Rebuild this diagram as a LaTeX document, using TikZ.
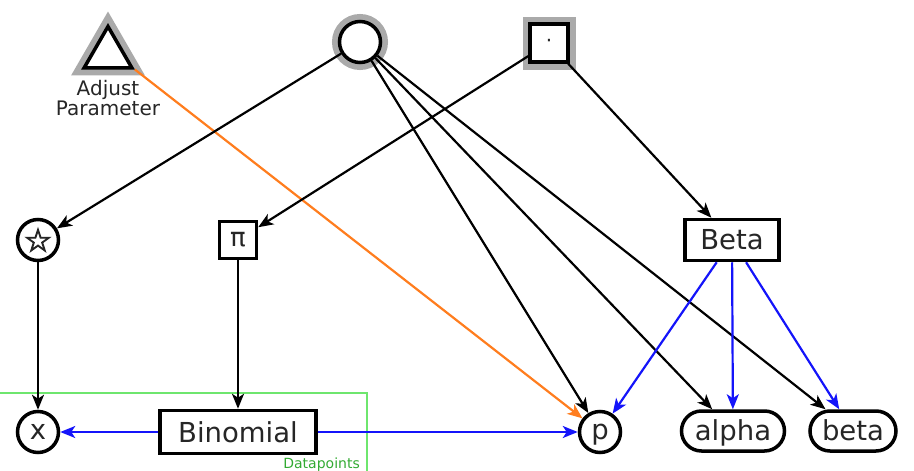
\documentclass[tikz,border=0pt]{standalone}
\usepackage{fontspec}
\setmainfont{DejaVu Sans}
\newfontfamily\starfont{DejaVu Sans}[FakeBold=3]
\usetikzlibrary{arrows.meta,shapes.geometric}
\definecolor{halogray}{RGB}{170,170,170}
\definecolor{edgeblue}{RGB}{20,20,250}
\definecolor{edgeorange}{RGB}{255,125,30}
\definecolor{plategreen}{RGB}{110,230,110}
\definecolor{labelgreen}{RGB}{50,170,50}
\begin{document}
\begin{tikzpicture}[x=1pt,y=-1pt,
  nd/.style={draw=black, line width=3.5pt, fill=white, text=black!85,
    font=\fontsize{27.5}{30}\selectfont, inner sep=0pt},
  circ/.style={nd, circle, minimum size=41pt},
  boxn/.style={nd, rectangle},
  pill/.style={nd, rectangle, rounded corners=20pt, minimum height=40pt, text depth=2pt},
  halo/.style={preaction={draw=halogray, line width=15pt}},
  edge/.style={line width=2.2pt, draw=black, -{Stealth[length=15pt,width=12pt,inset=4pt]}},
  bedge/.style={edge, draw=edgeblue, -{Stealth[length=15pt,width=12pt,inset=4pt,fill=edgeblue]}},
  oedge/.style={edge, draw=edgeorange, -{Stealth[length=15pt,width=12pt,inset=4pt,fill=edgeorange]}},
  plate/.style={draw=plategreen, line width=1.5pt}
]
\useasboundingbox (0,0) rectangle (914,471);

% plate
\draw[plate] (-3,393) -- (367,393) -- (367,475);
\node[anchor=base east, text=labelgreen, font=\fontsize{14}{16}\selectfont, inner sep=0pt] (dplabel) at (360,468) {Datapoints};

% top row
\node[nd, halo, regular polygon, regular polygon sides=3, minimum size=55pt] (tri) at (108,54) {};
\node[text=black!85, font=\fontsize{20}{18}\selectfont, align=center, inner sep=0pt] (trilabel) at (108,98) {Adjust\\Parameter};
\node[circ, halo] (top) at (360,42) {};
\node[boxn, halo, minimum size=38pt] (sq) at (549,43) {\fontsize{20}{20}\selectfont ·};

% middle row
\node[circ] (star) at (38,240) {\starfont\fontsize{32}{32}\selectfont ☆};
\node[boxn, minimum size=37pt] (pi) at (238,240) {\fontsize{26}{26}\selectfont π};
\node[boxn, minimum width=94pt, minimum height=41pt] (beta) at (732,240) {Beta};

% bottom row
\node[circ] (x) at (38,432) {x};
\node[boxn, minimum width=156pt, minimum height=43pt] (binom) at (238,432) {Binomial};
\node[circ, text depth=0pt] (p) at (600,432) {p};
\node[pill, minimum width=103pt] (alpha) at (733,431) {alpha};
\node[pill, minimum width=86pt] (betav) at (853,431) {beta};

% edges
\draw[oedge] (tri.corner 3) -- (p);
\draw[edge] (top) -- (star);
\draw[edge] (top) -- (p);
\draw[edge] (top) -- (alpha);
\draw[edge] (top) -- (betav);
\draw[edge] (sq) -- (pi);
\draw[edge] (sq) -- (beta);
\draw[edge] (star) -- (x);
\draw[edge] (pi) -- (binom);
\draw[bedge] (binom) -- (x);
\draw[bedge] (binom) -- (p);
\draw[bedge] (beta) -- (p);
\draw[bedge] (beta) -- (alpha);
\draw[bedge] (beta) -- (betav);
\end{tikzpicture}
\end{document}
